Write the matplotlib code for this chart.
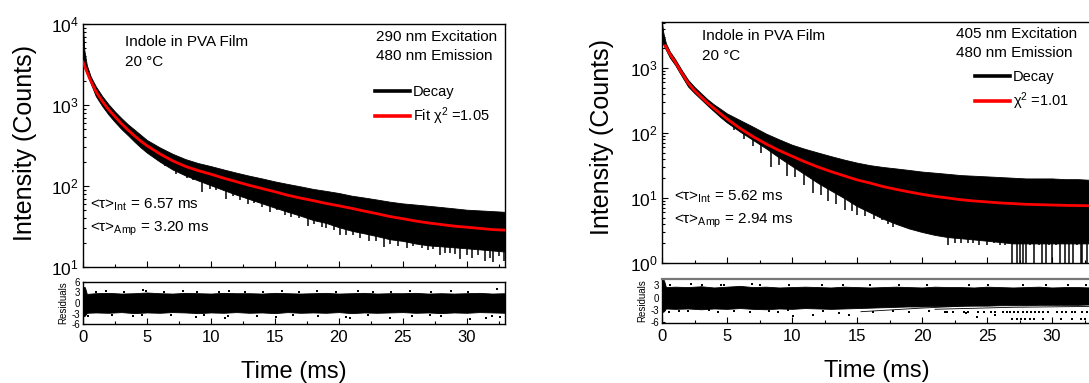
import numpy as np
import matplotlib
matplotlib.use('Agg')
import matplotlib.pyplot as plt
from matplotlib.lines import Line2D
from matplotlib.ticker import MultipleLocator

plt.rcParams['font.family'] = ['Liberation Sans', 'DejaVu Sans']
plt.rcParams['mathtext.fontset'] = 'custom'
plt.rcParams['mathtext.rm'] = 'Liberation Sans'
plt.rcParams['mathtext.it'] = 'Liberation Sans:italic'
plt.rcParams['mathtext.bf'] = 'Liberation Sans:bold'
plt.rcParams['axes.unicode_minus'] = False

# ---------------- left panel: 290 nm excitation ----------------
t_env_left = [0, 0.1, 0.3, 0.6, 1, 1.5, 2, 2.5, 3, 3.5, 4, 4.5] + list(range(5, 34))
decay_hi_left = [9500, 4800, 3100, 2250, 1700, 1290, 1020, 830, 690, 580, 500, 430,
                 370, 300, 250, 215, 192, 176, 160, 146, 134, 124, 114, 106, 99, 92,
                 87, 82, 76, 72, 68, 64, 61, 59, 57, 55, 53, 51, 50, 49, 48]
decay_lo_left = [3300, 2900, 2450, 1850, 1290, 970, 760, 615, 505, 425, 355, 300,
                 258, 200, 160, 135, 117, 102, 89, 78, 69, 61, 54, 48, 43, 38,
                 35, 31, 28, 26, 24, 22, 21, 19.5, 18.5, 18, 17.5, 17, 16.5, 16, 15.5]
t_fit_left = [0, 0.25, 0.5, 0.75, 1, 1.25, 1.5, 1.75, 2, 2.5, 3, 3.5, 4, 4.5] + list(range(5, 34))
fit_left = [3400, 2700, 2150, 1780, 1480, 1280, 1120, 990, 880, 720, 590, 495, 420, 360,
            315, 250, 205, 175, 155, 140, 125, 113, 102, 93, 85, 77, 71, 66,
            61, 57, 53, 49, 45.5, 42, 39.5, 37, 35, 33.5, 32, 31, 30, 29, 28.5]
spike_t_left = [6.4, 7.3, 8.1, 8.6, 9.3, 9.9, 10.4, 11.2, 11.7, 12.3, 12.9, 13.4, 14.0, 14.6,
                15.2, 15.8, 16.3, 16.9, 17.6, 18.1, 18.7, 19.0, 19.6, 20.1, 20.6, 21.1, 21.7,
                22.4, 22.9, 23.5, 24.0, 24.6, 25.3, 25.8, 26.5, 27.0, 27.4, 27.9, 28.3, 28.7,
                29.1, 29.5, 30.0, 30.4, 30.9, 31.4, 31.8, 32.1, 32.5, 32.9]
spike_v_left = [175, 140, 125, 118, 85, 92, 88, 70, 75, 68, 60, 62, 55, 48,
                50, 44, 42, 40, 32, 34, 31, 30, 29, 24.5, 25, 24.5, 23,
                21, 21, 17.5, 19, 18, 17, 18, 17, 16, 16.5, 14, 15, 15,
                14.5, 12.4, 14, 13, 14, 12, 13, 11.5, 13.5, 12]

res_t = [0, 0.15, 0.3] + list(range(1, 34))
res_hi_left = [4.6, 4.5, 2.6,
               2.8, 2.9, 2.7, 2.8, 3.0, 2.8, 2.7, 2.9, 2.8, 2.7, 2.9, 2.8, 2.8, 2.7, 2.9, 2.8, 2.7,
               2.8, 2.9, 2.7, 2.8, 2.9, 2.7, 2.8, 2.8, 2.9, 2.7, 2.8, 2.7, 2.8, 2.9, 2.7, 2.8]
res_lo_left = [-3.9, -3.6, -2.8,
               -2.7, -2.8, -2.6, -2.9, -2.7, -2.8, -2.6, -2.7, -2.9, -2.7, -2.8, -2.6, -2.8, -2.7, -2.9, -2.6, -2.8,
               -2.7, -2.8, -2.6, -2.9, -2.7, -2.8, -2.7, -2.6, -2.8, -2.7, -2.9, -2.7, -2.8, -2.6, -2.7, -2.8]
out_t_left = [1.0, 1.8, 3.2, 4.7, 4.9, 6.3, 7.8, 8.9, 10.6, 11.4, 12.7, 14.1, 15.6, 16.9, 18.3, 19.8,
              21.5, 22.7, 24.1, 25.6, 27.2, 28.8, 30.1, 32.4,
              0.4, 2.3, 3.9, 4.6, 6.9, 8.8, 9.5, 11.1, 11.3, 13.6, 15.1, 16.4, 18.4, 20.6, 20.9, 22.3,
              24.0, 25.7, 27.1, 28.0, 30.3, 31.5, 32.0, 32.6]
out_r_left = [3.2, 3.3, 3.1, 3.6, 3.3, 3.2, 3.4, 3.1, 3.2, 3.3, 3.1, 3.2, 3.4, 3.1, 3.3, 3.2,
              3.3, 3.1, 3.2, 3.3, 3.1, 3.3, 3.2, 4.0,
              -3.7, -3.4, -3.8, -3.3, -3.5, -3.9, -3.3, -4.2, -3.6, -3.8, -3.9, -3.4, -3.6, -3.9, -4.3, -3.5,
              -4.4, -3.6, -3.4, -3.7, -4.7, -4.2, -3.6, -3.9]

# ---------------- right panel: 405 nm excitation ----------------
t_env_right = [0, 0.1, 0.3, 0.6, 1, 1.5, 2, 2.5, 3, 3.5, 4, 4.5] + list(range(5, 34))
decay_hi_right = [5000, 3500, 2400, 1800, 1380, 940, 660, 510, 410, 330, 275, 235,
                  200, 158, 125, 98, 80, 66, 57, 50, 44, 39, 35, 32, 30, 28.5,
                  27, 25.5, 24.5, 23.5, 22.5, 22, 21.5, 21, 20.5, 20, 20, 20, 19.5, 19.5, 19]
decay_lo_right = [2700, 2300, 1900, 1450, 1120, 760, 520, 410, 330, 265, 215, 175,
                  145, 105, 78, 58, 42, 31, 23, 17, 13, 10, 7.5, 6, 4.8, 4.0,
                  3.4, 3.0, 2.7, 2.5, 2.4, 2.3, 2.2, 2.1, 2.0, 2.0, 2.0, 2.0, 2.0, 2.0, 2.0]
t_fit_right = [0.25, 0.5, 0.75, 1, 1.25, 1.5, 1.75, 2, 2.5, 3, 3.5, 4, 4.5] + list(range(5, 34))
fit_right = [2200, 1780, 1480, 1250, 1030, 850, 710, 590, 450, 360, 290, 240, 198,
             165, 118, 88, 68, 54, 44, 36, 30, 25.5, 22, 19, 17, 15, 13.6,
             12.4, 11.4, 10.6, 10, 9.4, 9, 8.7, 8.4, 8.2, 8.0, 7.9, 7.8, 7.7, 7.65, 7.6]
spike_t_right = [5.5, 6.3, 7.0, 7.6, 8.4, 9.0, 9.6, 10.2, 10.9, 11.6, 12.2, 12.8, 13.4, 14.1,
                 14.6, 15.0, 15.6, 16.3, 16.9, 17.4, 17.8, 18.6, 19.1, 19.7, 20.2, 20.6, 21.0,
                 21.4, 21.6, 22.0, 22.5, 23.0, 23.5, 23.9, 24.4, 25.0, 25.5, 26.0, 26.4, 26.9,
                 27.3, 27.5, 27.8, 28.0, 28.3, 28.6, 29.0, 29.2, 29.5, 29.8, 30.0, 30.3, 30.6,
                 31.0, 31.3, 31.6, 31.9, 32.2, 32.3, 32.7, 33.0]
spike_v_right = [110, 80, 62, 50, 30, 32, 22, 21, 16, 12, 11, 9, 8, 6.6,
                 6.2, 5.5, 5.2, 4.8, 4.6, 4.0, 3.6, 3.6, 3.8, 3.2, 3.3, 3.0, 2.9,
                 2.9, 2.9, 1.9, 2.0, 2.0, 2.0, 2.0, 1.9, 1.9, 2.0, 1.9, 1.9, 1,
                 1, 1, 1, 1, 1.9, 1, 1.9, 1, 1, 1.9, 1, 1.9, 1,
                 1, 1, 1, 1.9, 1, 1, 1, 1]

res_hi_right = [4.4, 4.3, 2.6,
                2.7, 2.6, 2.8, 2.5, 2.7, 2.9, 2.6, 2.7, 2.5, 2.6, 2.7, 2.6, 2.5, 2.7, 2.6, 2.5, 2.6,
                2.7, 2.6, 2.5, 2.7, 2.6, 2.6, 2.5, 2.7, 2.6, 2.5, 2.6, 2.7, 2.5, 2.6, 2.6, 2.5]
res_lo_right = [-3.6, -3.4, -2.7,
                -2.8, -2.7, -2.9, -2.7, -2.8, -2.6, -2.8, -2.9, -2.7, -2.8, -2.6, -2.7, -2.8, -2.7, -2.6,
                -2.5, -2.4, -2.3, -2.2, -2.2, -2.1, -2.1, -2.0, -2.0, -2.0, -1.9, -1.9, -1.9, -1.8, -1.8,
                -1.8, -1.8, -1.7]
out_t_right = [0.6, 2.2, 3.1, 4.5, 4.8, 6.9, 7.5, 9.8, 12.3, 13.9, 16.0, 18.2, 20.4, 23.6, 25.1,
               27.8, 29.5, 31.2, 32.6,
               0.5, 1.3, 2.0, 3.6, 4.3, 5.5, 6.8, 8.2, 8.9, 9.7, 10.1, 11.6, 12.4, 13.6, 14.4, 16.2,
               17.8, 19.0, 20.5, 21.9, 23.4, 24.2, 25.6]
out_r_right = [3.1, 3.3, 3.0, 3.2, 3.1, 3.3, 3.0, 3.1, 3.0, 3.1, 3.0, 3.2, 3.0, 3.1, 3.0,
               3.2, 3.0, 3.1, 3.0,
               -3.5, -3.3, -3.4, -3.2, -3.6, -3.3, -3.5, -3.4, -3.6, -3.2, -4.6, -4.2, -3.4, -3.9, -4.3, -3.5,
               -3.3, -3.6, -3.4, -3.5, -3.7, -4.8, -4.3]
row1_t = [21.8, 22.4, 23.2, 23.5, 24.3, 24.8, 25.3, 25.6, 26.2, 26.5, 26.8, 27.1, 27.4, 27.8, 28.1,
          28.4, 28.7, 29.0, 29.3, 29.7, 30.4, 30.8, 31.1, 31.5, 31.8, 32.3, 32.7]
row2_t = [26.9, 27.3, 27.6, 27.9, 28.3, 28.6, 29.3, 30.7, 31.5, 32.2, 32.5]
row1_r = -3.6
row2_r = -5.2
trail1_t = [15.3, 20.0, 26.0, 33.0]
trail1_r = [-3.5, -2.6, -1.7, -1.5]
trail2_t = [21.0, 27.0, 33.0]
trail2_r = [-2.9, -2.4, -2.2]

W, H = 1089, 383
fig = plt.figure(figsize=(W / 100, H / 100), dpi=100)


def style(ax, xlabels):
    ax.tick_params(which='both', direction='in', top=False, right=False, width=0.8)
    ax.tick_params(which='major', length=4, labelsize=12)
    ax.tick_params(which='minor', length=2.5)
    ax.set_xlim(0, 33)
    ax.xaxis.set_major_locator(MultipleLocator(5))
    ax.xaxis.set_minor_locator(MultipleLocator(2.5))
    if not xlabels:
        ax.tick_params(axis='x', labelbottom=False)
    for s in ax.spines.values():
        s.set_linewidth(1.0)


def panel(left, main_bottom, main_h, res_bottom, res_h, width,
          t_env, lo, hi, t_fit, fit, sp_t, sp_v, ylim,
          r_hi, r_lo, o_t, o_r, res_ylim, res_ticks,
          extra, texts, leg_anchor, fit_label):
    ax = fig.add_axes([left, main_bottom, width, main_h])
    ax.set_yscale('log')
    ax.fill_between(t_env, lo, hi, color='black', lw=0.6, zorder=2)
    sp_top = np.interp(sp_t, t_env, lo) * 1.3
    ax.vlines(sp_t, sp_v, sp_top, color='black', lw=1.1, zorder=2)
    ax.plot(t_fit, fit, color='#ff0000', lw=2.0, zorder=3)
    ax.set_ylim(*ylim)
    style(ax, False)
    ax.tick_params(axis='y', labelsize=12.5, pad=3)

    handles = [Line2D([], [], color='black', lw=2.6), Line2D([], [], color='#ff0000', lw=2.6)]
    ax.legend(handles, ['Decay', fit_label], loc='upper left', bbox_to_anchor=leg_anchor,
              frameon=False, fontsize=10.5, handlelength=2.4, handletextpad=0.2,
              labelspacing=0.45, borderpad=0, borderaxespad=0)
    for (x, y, s) in texts:
        ax.text(x, y, s, transform=ax.transAxes, fontsize=11, va='center', ha='left')

    rx = fig.add_axes([left, res_bottom, width, res_h])
    rx.fill_between(res_t, r_lo, r_hi, color='black', lw=0.6)
    rx.scatter(o_t, o_r, s=3, marker='s', color='black', lw=0)
    for (lt, lr, kind) in extra:
        if kind == 'row':
            rx.scatter(lt, [lr] * len(lt), s=4, marker='s', color='black', lw=0)
        else:
            rx.plot(lt, lr, color='black', lw=0.6)
    rx.set_ylim(*res_ylim)
    rx.set_yticks(res_ticks)
    style(rx, True)
    rx.tick_params(axis='x', labelsize=12, pad=4)
    rx.tick_params(axis='y', labelsize=7, pad=2, length=2.5)
    rx.set_ylabel('Residuals', fontsize=7, labelpad=2)
    rx.set_xlabel('Time (ms)', fontsize=17, labelpad=12)
    return ax, rx


tau = '<τ>'
ax1, rx1 = panel(83 / W, 1 - 267 / H, 243 / H, 1 - 324 / H, 42 / H, 422 / W,
                 t_env_left, decay_lo_left, decay_hi_left, t_fit_left, fit_left,
                 spike_t_left, spike_v_left, (10, 10000),
                 res_hi_left, res_lo_left, out_t_left, out_r_left, (-6, 6), [-6, -3, 0, 3, 6],
                 [],
                 [(0.1, 0.926, 'Indole in PVA Film'), (0.1, 0.844, '20 °C'),
                  (0.694, 0.947, '290 nm Excitation'), (0.694, 0.868, '480 nm Emission'),
                  (0.017, 0.255, tau + r'$_{\mathrm{Int}}$ = 6.57 ms'),
                  (0.017, 0.156, tau + r'$_{\mathrm{Amp}}$ = 3.20 ms')],
                 (0.692, 0.75), 'Fit χ$^{2}$ =1.05')

ax2, rx2 = panel(662 / W, 1 - 263 / H, 241 / H, 1 - 323 / H, 44 / H, 429 / W,
                 t_env_right, decay_lo_right, decay_hi_right, t_fit_right, fit_right,
                 spike_t_right, spike_v_right, (1, 5100),
                 res_hi_right, res_lo_right, out_t_right, out_r_right, (-6.3, 4.6), [-6, -3, 0, 3],
                 [(row1_t, row1_r, 'row'), (row2_t, row2_r, 'row'),
                  (trail1_t, trail1_r, 'line'), (trail2_t, trail2_r, 'line')],
                 [(0.093, 0.942, 'Indole in PVA Film'), (0.093, 0.859, '20 °C'),
                  (0.685, 0.95, '405 nm Excitation'), (0.685, 0.871, '480 nm Emission'),
                  (0.028, 0.274, tau + r'$_{\mathrm{Int}}$ = 5.62 ms'),
                  (0.028, 0.174, tau + r'$_{\mathrm{Amp}}$ = 2.94 ms')],
                 (0.73, 0.802), 'χ$^{2}$ =1.01')
rx2.spines['top'].set_color('#777777')
rx2.spines['top'].set_linewidth(1.6)

fig.text(25 / W, 1 - 143 / H, 'Intensity (Counts)', rotation=90, fontsize=18,
         ha='center', va='center')
fig.text(602 / W, 1 - 137 / H, 'Intensity (Counts)', rotation=90, fontsize=18,
         ha='center', va='center')

fig.savefig('out.png', dpi=100)
